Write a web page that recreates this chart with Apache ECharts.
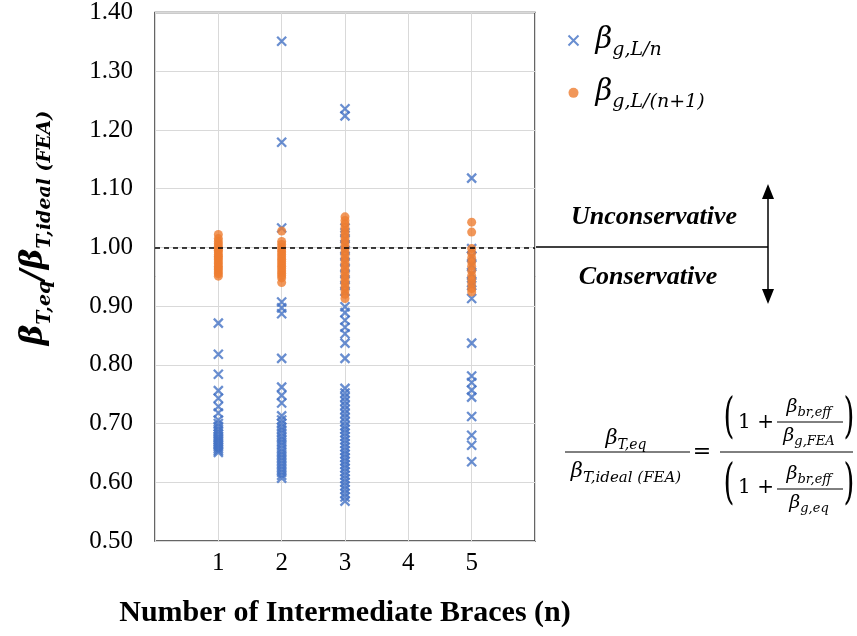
<!DOCTYPE html>
<html>
<head>
<meta charset="utf-8">
<script src="https://cdn.jsdelivr.net/npm/echarts@6/dist/echarts.min.js"></script>
<style>
  html, body { margin: 0; padding: 0; background: #fff; }
  #chart { width: 857px; height: 636px; }
</style>
</head>
<body>
<div id="chart"></div>
<script>
// braces counts (x positions)
const braceTicks = [1, 2, 3, 4, 5];

// beta_g,L/n  (blue crosses), per brace count
const blue1 = [0.871, 0.818, 0.784, 0.756, 0.743, 0.729, 0.718, 0.706, 0.700, 0.695, 0.690, 0.686, 0.682, 0.678, 0.675, 0.672, 0.669, 0.666, 0.663, 0.660, 0.657, 0.654, 0.651];
const blue2 = [1.351, 1.179, 1.033, 0.907, 0.897, 0.887, 0.811, 0.762, 0.748, 0.735, 0.713, 0.706, 0.700, 0.694, 0.689, 0.684, 0.678, 0.673, 0.668, 0.663, 0.657, 0.652, 0.647, 0.642, 0.637, 0.632, 0.627, 0.622, 0.617, 0.612, 0.607];
const blue3 = [1.236, 1.224, 1.033, 1.025, 1.015, 1.005, 0.995, 0.985, 0.975, 0.965, 0.955, 0.945, 0.935, 0.925, 0.899, 0.889, 0.876, 0.864, 0.853, 0.837, 0.811, 0.760, 0.752, 0.745, 0.738, 0.731, 0.724, 0.717, 0.710, 0.703, 0.696, 0.690, 0.684, 0.678, 0.672, 0.666, 0.660, 0.654, 0.648, 0.642, 0.636, 0.630, 0.624, 0.618, 0.612, 0.606, 0.600, 0.594, 0.588, 0.581, 0.575, 0.568];
const blue5 = [1.118, 0.998, 0.985, 0.970, 0.955, 0.940, 0.935, 0.913, 0.837, 0.781, 0.770, 0.757, 0.745, 0.712, 0.680, 0.663, 0.635];

// beta_g,L/(n+1)  (orange dots)
const orange1 = [1.022, 1.015, 1.010, 1.006, 1.002, 0.998, 0.995, 0.992, 0.988, 0.985, 0.982, 0.979, 0.975, 0.972, 0.968, 0.965, 0.962, 0.958, 0.955, 0.951];
const orange2 = [1.028, 1.010, 1.005, 1.000, 0.996, 0.992, 0.988, 0.984, 0.980, 0.976, 0.972, 0.968, 0.964, 0.960, 0.956, 0.952, 0.948, 0.940];
const orange3 = [1.052, 1.046, 1.040, 1.034, 1.028, 1.022, 1.016, 1.010, 1.004, 0.998, 0.992, 0.986, 0.980, 0.974, 0.968, 0.962, 0.956, 0.950, 0.944, 0.938, 0.932, 0.926, 0.920, 0.913];
const orange5 = [1.043, 1.026, 0.998, 0.990, 0.982, 0.975, 0.968, 0.960, 0.952, 0.945, 0.938, 0.930, 0.924];

const refLine = 1.0;

function toPoints(groups) {
  const pts = [];
  groups.forEach(([n, vals]) => vals.forEach(v => pts.push([n, v])));
  return pts;
}

const bluePts = toPoints([[1, blue1], [2, blue2], [3, blue3], [5, blue5]]);
const orangePts = toPoints([[1, orange1], [2, orange2], [3, orange3], [5, orange5]]);

const SERIF = '"Liberation Serif", "Times New Roman", serif';
const MATH = '"DejaVu Serif", "Liberation Serif", serif';

const crossPath = 'path://M0,0L10,10M10,0L0,10';

// rich styles for beta + subscript
function betaRich(big, small, bold, lead) {
  return {
    b: { fontFamily: MATH, fontStyle: 'italic', fontWeight: bold ? 'bold' : 'normal', fontSize: big, color: '#000', lineHeight: big * 1.3, padding: [0, 0, 0, lead || 0] },
    s: { fontFamily: MATH, fontStyle: 'italic', fontWeight: bold ? 'bold' : 'normal', fontSize: small, color: '#000', verticalAlign: 'bottom', lineHeight: small }
  };
}

const chart = echarts.init(document.getElementById('chart'), null, { renderer: 'canvas' });

const legendNames = { blue: '{b|β}{s|g,L/n}', orange: '{b|β}{s|g,L/(n+1)}' };

const option = {
  backgroundColor: '#fff',
  animation: false,
  grid: {
    left: 155, right: 322, top: 12, bottom: 95,
    show: true, borderColor: '#333', borderWidth: 1.5, backgroundColor: 'transparent'
  },
  legend: {
    orient: 'vertical',
    left: 561, top: 21,
    itemWidth: 10, itemHeight: 10,
    itemGap: 19,
    itemTextGap: 10,
    data: ['blue', 'orange'],
    formatter: name => legendNames[name],
    textStyle: { rich: betaRich(29, 19, false, 12) }
  },
  xAxis: {
    type: 'value',
    min: 0, max: 6, interval: 1,
    name: 'Number of Intermediate Braces (n)',
    nameLocation: 'middle',
    nameGap: 57,
    nameTextStyle: { fontFamily: SERIF, fontWeight: 'bold', fontSize: 30, color: '#000' },
    axisLine: { show: false },
    axisTick: { show: false },
    axisLabel: {
      fontFamily: SERIF, fontSize: 25, color: '#000', margin: 10,
      formatter: v => (braceTicks.includes(v) ? String(v) : '')
    },
    splitLine: { show: true, lineStyle: { color: '#D9D9D9', width: 1 } }
  },
  yAxis: {
    type: 'value',
    min: 0.5, max: 1.4, interval: 0.1,
    axisLine: { show: false },
    axisTick: { show: false },
    axisLabel: {
      fontFamily: SERIF, fontSize: 25, color: '#000', margin: 22,
      formatter: v => v.toFixed(2)
    },
    splitLine: { show: true, lineStyle: { color: '#D9D9D9', width: 1 } }
  },
  series: [
    {
      name: 'blue',
      type: 'scatter',
      data: bluePts,
      symbol: crossPath,
      symbolSize: 9,
      z: 2,
      itemStyle: { color: 'none', borderColor: '#4472C4', borderWidth: 2.3 },
      markLine: {
        silent: true,
        symbol: ['none', 'none'],
        label: { show: false },
        lineStyle: { color: '#000', type: [5, 4], width: 1.5 },
        data: [{ yAxis: refLine }]
      }
    },
    {
      name: 'orange',
      type: 'scatter',
      data: orangePts,
      symbol: 'circle',
      symbolSize: 9,
      z: 3,
      itemStyle: { color: '#ED7D31' }
    }
  ],
  graphic: [
    // y axis title
    {
      type: 'text',
      x: 34, y: 228,
      rotation: Math.PI / 2,
      style: {
        text: '{b|β}{s|T,eq}{b|/β}{s|T,ideal (FEA)}',
        rich: betaRich(31, 19, true),
        align: 'center', verticalAlign: 'middle'
      }
    },
    // solid continuation of reference line and arrow
    { type: 'line', shape: { x1: 535, y1: 247, x2: 768, y2: 247 }, style: { stroke: '#000', lineWidth: 1.5 } },
    { type: 'line', shape: { x1: 768, y1: 196, x2: 768, y2: 292 }, style: { stroke: '#000', lineWidth: 1.5 } },
    { type: 'polygon', shape: { points: [[768, 184], [762, 199], [774, 199]] }, style: { fill: '#000' } },
    { type: 'polygon', shape: { points: [[768, 304], [762, 289], [774, 289]] }, style: { fill: '#000' } },
    {
      type: 'text', x: 654, y: 217,
      style: { text: 'Unconservative', font: 'italic bold 26px "Liberation Serif"', fill: '#000', align: 'center', verticalAlign: 'middle' }
    },
    {
      type: 'text', x: 648, y: 277,
      style: { text: 'Conservative', font: 'italic bold 26px "Liberation Serif"', fill: '#000', align: 'center', verticalAlign: 'middle' }
    },
    // formula
    { type: 'text', x: 626, y: 439, style: { text: '{b|β}{s|T,eq}', rich: betaRich(21, 14, false), align: 'center', verticalAlign: 'middle' } },
    { type: 'line', shape: { x1: 565, y1: 452, x2: 690, y2: 452 }, style: { stroke: '#000', lineWidth: 1 } },
    { type: 'text', x: 626, y: 472, style: { text: '{b|β}{s|T,ideal (FEA)}', rich: betaRich(21, 15, false), align: 'center', verticalAlign: 'middle' } },
    { type: 'text', x: 702, y: 452, style: { text: '=', font: '22px "DejaVu Serif"', fill: '#000', align: 'center', verticalAlign: 'middle' } },
    { type: 'line', shape: { x1: 720, y1: 452, x2: 853, y2: 452 }, style: { stroke: '#000', lineWidth: 1 } },
    // numerator
    { type: 'text', x: 729, y: 420, scaleY: 1.7, style: { text: '(', font: '28px "DejaVu Serif"', fill: '#000', align: 'center', verticalAlign: 'middle' } },
    { type: 'text', x: 756, y: 423, style: { text: '1 +', font: '20px "DejaVu Serif"', fill: '#000', align: 'center', verticalAlign: 'middle' } },
    { type: 'text', x: 809, y: 407, style: { text: '{b|β}{s|br,eff}', rich: betaRich(19, 13, false), align: 'center', verticalAlign: 'middle' } },
    { type: 'line', shape: { x1: 777, y1: 422, x2: 843, y2: 422 }, style: { stroke: '#000', lineWidth: 1 } },
    { type: 'text', x: 809, y: 436, style: { text: '{b|β}{s|g,FEA}', rich: betaRich(19, 13, false), align: 'center', verticalAlign: 'middle' } },
    { type: 'text', x: 849, y: 420, scaleY: 1.7, style: { text: ')', font: '28px "DejaVu Serif"', fill: '#000', align: 'center', verticalAlign: 'middle' } },
    // denominator
    { type: 'text', x: 729, y: 486, scaleY: 1.7, style: { text: '(', font: '28px "DejaVu Serif"', fill: '#000', align: 'center', verticalAlign: 'middle' } },
    { type: 'text', x: 756, y: 488, style: { text: '1 +', font: '20px "DejaVu Serif"', fill: '#000', align: 'center', verticalAlign: 'middle' } },
    { type: 'text', x: 809, y: 474, style: { text: '{b|β}{s|br,eff}', rich: betaRich(19, 13, false), align: 'center', verticalAlign: 'middle' } },
    { type: 'line', shape: { x1: 777, y1: 489, x2: 843, y2: 489 }, style: { stroke: '#000', lineWidth: 1 } },
    { type: 'text', x: 809, y: 503, style: { text: '{b|β}{s|g,eq}', rich: betaRich(19, 13, false), align: 'center', verticalAlign: 'middle' } },
    { type: 'text', x: 849, y: 486, scaleY: 1.7, style: { text: ')', font: '28px "DejaVu Serif"', fill: '#000', align: 'center', verticalAlign: 'middle' } }
  ]
};

chart.setOption(option);
</script>
</body>
</html>
